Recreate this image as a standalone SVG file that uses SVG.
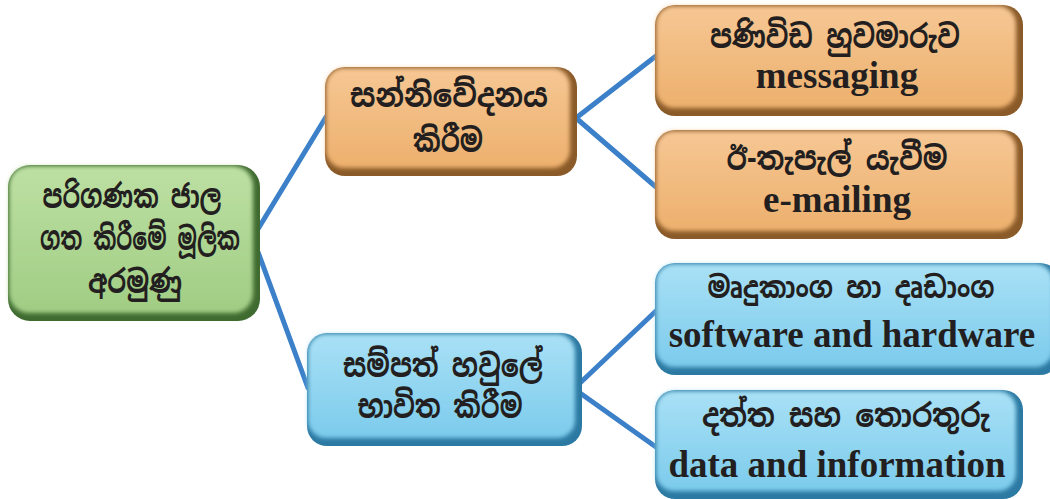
<svg xmlns="http://www.w3.org/2000/svg" width="1050" height="499" viewBox="0 0 1050 499">
<style>
.si{font-family:"Noto Sans Sinhala","Noto Serif Sinhala","Noto Sans",sans-serif;font-weight:bold;font-size:32px;fill:#231f20;text-anchor:middle}
.en{font-family:"Liberation Serif","Times New Roman",serif;font-weight:bold;font-size:37px;fill:#231f20;text-anchor:middle}
.conn{stroke:#3b80c8;stroke-width:5;fill:none;stroke-linecap:round}
</style>
<defs>
<filter id="soft" x="-5%" y="-5%" width="110%" height="110%"><feGaussianBlur stdDeviation="2.2"/></filter>
<linearGradient id="gG" x1="0" y1="0" x2="0" y2="1"><stop offset="0" stop-color="#bde0a3"/><stop offset="1" stop-color="#a0cd84"/></linearGradient>
<linearGradient id="gO" x1="0" y1="0" x2="0" y2="1"><stop offset="0" stop-color="#f6c794"/><stop offset="1" stop-color="#edb06d"/></linearGradient>
<linearGradient id="gB" x1="0" y1="0" x2="0" y2="1"><stop offset="0" stop-color="#a9e1f6"/><stop offset="1" stop-color="#7ccbec"/></linearGradient>
</defs>
<rect width="1050" height="499" fill="#ffffff"/>
<g id="connectors">
<line class="conn" x1="258" y1="229" x2="326" y2="117"/>
<line class="conn" x1="258" y1="252" x2="308" y2="388"/>
<line class="conn" x1="576" y1="118" x2="656" y2="56"/>
<line class="conn" x1="576" y1="118" x2="656" y2="187"/>
<line class="conn" x1="580" y1="383" x2="656" y2="311"/>
<line class="conn" x1="580" y1="393" x2="656" y2="447"/>
</g>
<g id="root">
<rect x="8" y="165" width="252" height="156" rx="22" fill="#3f6b30"/>
<rect x="9" y="166" width="244" height="147" rx="20" fill="url(#gG)" filter="url(#soft)"/>
<text class="si" x="132" y="208" textLength="179" lengthAdjust="spacingAndGlyphs">පරිගණක ජාල</text>
<text class="si" x="140" y="250" textLength="200" lengthAdjust="spacingAndGlyphs">ගත කිරීමේ මූලික</text>
<text class="si" x="135" y="293" textLength="94" lengthAdjust="spacingAndGlyphs">අරමුණු</text>
</g>
<g id="communication">
<rect x="325" y="67" width="252" height="109" rx="20" fill="#8a5a28"/>
<rect x="326" y="68" width="244" height="100" rx="18" fill="url(#gO)" filter="url(#soft)"/>
<text class="si" x="449" y="107" textLength="198" lengthAdjust="spacingAndGlyphs">සන්නිවේදනය</text>
<text class="si" x="448" y="152" textLength="70" lengthAdjust="spacingAndGlyphs">කිරීම</text>
</g>
<g id="messaging">
<rect x="655" y="5" width="368" height="111" rx="20" fill="#8a5a28"/>
<rect x="656" y="6" width="360" height="102" rx="18" fill="url(#gO)" filter="url(#soft)"/>
<text class="si" x="835" y="48" textLength="250" lengthAdjust="spacingAndGlyphs">පණිවිඩ හුවමාරුව</text>
<text class="en" x="837" y="88">messaging</text>
</g>
<g id="emailing">
<rect x="655" y="130" width="368" height="109" rx="20" fill="#8a5a28"/>
<rect x="656" y="131" width="360" height="100" rx="18" fill="url(#gO)" filter="url(#soft)"/>
<text class="si" x="837" y="170" textLength="221" lengthAdjust="spacingAndGlyphs">ඊ-තැපැල් යැවීම</text>
<text class="en" x="837" y="212">e-mailing</text>
</g>
<g id="sharing">
<rect x="307" y="333" width="275" height="113" rx="20" fill="#2c7aa3"/>
<rect x="308" y="334" width="267" height="104" rx="18" fill="url(#gB)" filter="url(#soft)"/>
<text class="si" x="443" y="377" textLength="200" lengthAdjust="spacingAndGlyphs">සම්පත් හවුලේ</text>
<text class="si" x="440" y="418" textLength="165" lengthAdjust="spacingAndGlyphs">භාවිත කිරීම</text>
</g>
<g id="software">
<rect x="655" y="263" width="405" height="112" rx="20" fill="#2c7aa3"/>
<rect x="656" y="264" width="397" height="103" rx="18" fill="url(#gB)" filter="url(#soft)"/>
<text class="si" x="851" y="298" style="font-size:30px" textLength="287" lengthAdjust="spacingAndGlyphs">මෘදුකාංග හා දෘඩාංග</text>
<text class="en" x="852" y="347">software and hardware</text>
</g>
<g id="data">
<rect x="655" y="390" width="368" height="109" rx="20" fill="#2c7aa3"/>
<rect x="656" y="391" width="360" height="100" rx="18" fill="url(#gB)" filter="url(#soft)"/>
<text class="si" x="846" y="427" textLength="288" lengthAdjust="spacingAndGlyphs">දත්ත සහ තොරතුරු</text>
<text class="en" x="837" y="477">data and information</text>
</g>
</svg>
